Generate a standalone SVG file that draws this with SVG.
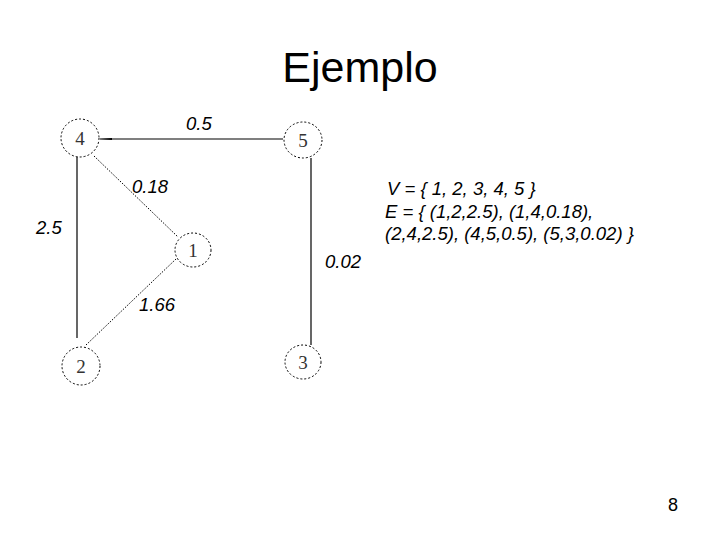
<svg xmlns="http://www.w3.org/2000/svg" width="720" height="540" viewBox="0 0 720 540">
<style>
.node{fill:none;stroke:#000;stroke-width:1;stroke-dasharray:2 2}
.nl{font-family:"Liberation Serif",serif;font-size:19px;fill:#333;text-anchor:middle}
.e{stroke:#000;stroke-width:1.2;fill:none}
.d{stroke:#000;stroke-width:1;fill:none;stroke-dasharray:1.5 1.5}
.w{font-family:"Liberation Sans",Arial,sans-serif;font-size:18.5px;font-style:italic;fill:#000}
</style>
<defs>
<marker id="ah" markerWidth="12" markerHeight="4" refX="0" refY="2" orient="auto" markerUnits="userSpaceOnUse">
<path d="M0,2 L12,1 L12,3 Z" fill="#000"/>
</marker>
</defs>
<rect width="720" height="540" fill="#fff"/>
<text x="360" y="82" font-family="Liberation Sans,Arial,sans-serif" font-size="43" text-anchor="middle">Ejemplo</text>
<g id="connectors">
<line class="e" x1="100" y1="139" x2="283" y2="139" marker-start="url(#ah)"/>
<line class="e" x1="77" y1="157" x2="77" y2="338"/>
<line class="e" x1="311" y1="158" x2="311" y2="345"/>
<line class="d" x1="94" y1="156" x2="178" y2="237"/>
<line class="d" x1="176" y1="259" x2="86" y2="345"/>
</g>
<g id="node4"><ellipse class="node" cx="80" cy="138" rx="19" ry="19"/><text class="nl" x="80" y="145">4</text></g>
<g id="node5"><ellipse class="node" cx="303" cy="140" rx="19" ry="18"/><text class="nl" x="303" y="147">5</text></g>
<g id="node1"><ellipse class="node" cx="193" cy="250" rx="18" ry="17"/><text class="nl" x="193" y="257">1</text></g>
<g id="node2"><ellipse class="node" cx="81" cy="366" rx="19" ry="19"/><text class="nl" x="81" y="373">2</text></g>
<g id="node3"><ellipse class="node" cx="303" cy="362" rx="18" ry="17"/><text class="nl" x="303" y="369">3</text></g>
<g id="labels">
<text class="w" x="186" y="130">0.5</text>
<text class="w" x="132" y="193">0.18</text>
<text class="w" x="36" y="234">2.5</text>
<text class="w" x="325" y="268">0.02</text>
<text class="w" x="139" y="311">1.66</text>
<text class="w" x="387" y="195">V = { 1, 2, 3, 4, 5 }</text>
<text class="w" x="385" y="217.5">E = { (1,2,2.5), (1,4,0.18),</text>
<text class="w" x="385" y="240">(2,4,2.5), (4,5,0.5), (5,3,0.02) }</text>
</g>
<text x="673" y="511" font-family="Liberation Sans,Arial,sans-serif" font-size="18" text-anchor="middle">8</text>
</svg>
